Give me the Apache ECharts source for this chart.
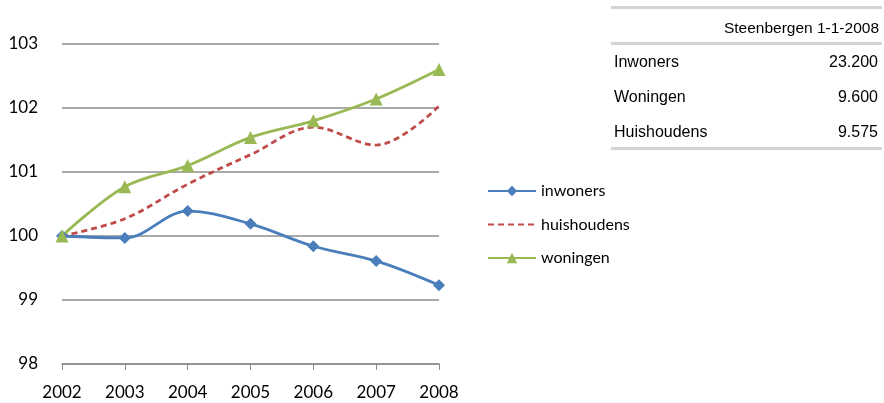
<!DOCTYPE html>
<html>
<head>
<meta charset="utf-8">
<script src="https://cdn.jsdelivr.net/npm/echarts@6/dist/echarts.min.js"></script>
<style>
  html, body { margin: 0; padding: 0; background: #fff; }
  #chart { width: 884px; height: 403px; }
</style>
</head>
<body>
<div id="chart"></div>
<script>
// jaren en indexcijfers (2002 = 100)
const years = ['2002', '2003', '2004', '2005', '2006', '2007', '2008']
const inwoners = [100, 99.97, 100.39, 100.19, 99.84, 99.61, 99.23]
const huishoudens = [100, 100.27, 100.81, 101.27, 101.7, 101.42, 102.03]
const woningen = [100, 100.77, 101.1, 101.54, 101.8, 102.14, 102.6]

// tabel rechtsboven
const tableTitle = 'Steenbergen 1-1-2008'
const tableLabels = ['Inwoners', 'Woningen', 'Huishoudens']
const tableValues = ['23.200', '9.600', '9.575']

const chart = echarts.init(document.getElementById('chart'), null, { renderer: 'canvas' })

const axisFont = { fontFamily: 'Lato', fontSize: 17, color: '#000' }
const tableFont = 'Liberation Sans'

// tabel opbouwen met graphic elementen
const graphics = []
const tl = 611, tr = 882
const hr = (y) => ({
  type: 'rect', shape: { x: tl, y: y, width: tr - tl, height: 3 },
  style: { fill: '#d4d4d4' }, silent: true
})
graphics.push(hr(6), hr(42), hr(147))
graphics.push({
  type: 'text', x: 879, y: 29,
  style: { text: tableTitle, fontFamily: tableFont, fontSize: 15.5, fill: '#000', align: 'right', verticalAlign: 'middle' }
})
tableLabels.forEach((lab, i) => {
  const y = 63 + i * 35
  graphics.push({
    type: 'text', x: 614, y: y,
    style: { text: lab, fontFamily: tableFont, fontSize: 16, fill: '#000', align: 'left', verticalAlign: 'middle' }
  })
  graphics.push({
    type: 'text', x: 878, y: y,
    style: { text: tableValues[i], fontFamily: tableFont, fontSize: 16, fill: '#000', align: 'right', verticalAlign: 'middle' }
  })
})

const option = {
  backgroundColor: '#fff',
  animation: false,
  grid: { left: 62, right: 445, top: 44, bottom: 39, containLabel: false },
  legend: {
    orient: 'vertical',
    left: 487,
    top: 183,
    padding: 0,
    itemWidth: 48,
    itemHeight: 13,
    itemGap: 17.5,
    textStyle: { fontFamily: 'Lato', fontSize: 16, color: '#000' },
    data: [
      'inwoners',
      { name: 'huishoudens', itemStyle: { opacity: 0 } },
      'woningen'
    ]
  },
  xAxis: {
    type: 'category',
    data: years,
    boundaryGap: false,
    axisLine: { lineStyle: { color: '#8c8c8c', width: 1.5 } },
    axisTick: { show: true, length: 6, lineStyle: { color: '#8c8c8c' } },
    axisLabel: Object.assign({ margin: 20 }, axisFont)
  },
  yAxis: {
    type: 'value',
    min: 98,
    max: 103,
    interval: 1,
    axisLine: { show: false },
    axisTick: { show: false },
    axisLabel: Object.assign({ margin: 24 }, axisFont),
    splitLine: { lineStyle: { color: '#8c8c8c', width: 1.5 } }
  },
  series: [
    {
      name: 'inwoners', type: 'line', data: inwoners, smooth: 0.35,
      symbol: 'diamond', symbolSize: 12,
      itemStyle: { color: '#4a7ebb' },
      lineStyle: { color: '#4a7ebb', width: 2.8 }
    },
    {
      name: 'huishoudens', type: 'line', data: huishoudens, smooth: 0.35,
      symbol: 'none',
      itemStyle: { color: '#be4b48' },
      lineStyle: { color: '#be4b48', width: 2.8, type: [6, 4] }
    },
    {
      name: 'woningen', type: 'line', data: woningen, smooth: 0.35,
      symbol: 'triangle', symbolSize: 13,
      itemStyle: { color: '#98b954' },
      lineStyle: { color: '#98b954', width: 2.8 }
    }
  ],
  graphic: graphics
}

chart.setOption(option)
</script>
</body>
</html>
